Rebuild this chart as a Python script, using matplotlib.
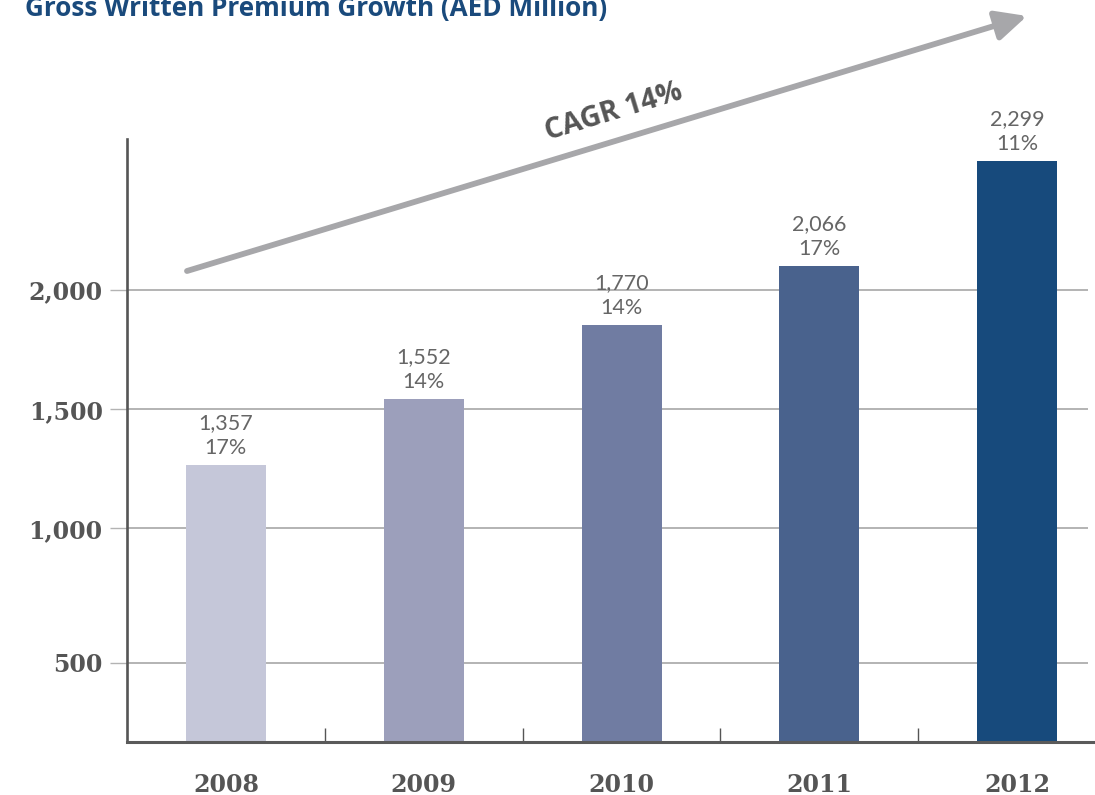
import numpy as np
import matplotlib
matplotlib.use("Agg")
import matplotlib.pyplot as plt

# ---- data ----
years = ["2008", "2009", "2010", "2011", "2012"]
bar_heights = [1266, 1543, 1853, 2102, 2541]          # heights as drawn against the axis
value_labels = ["1,357", "1,552", "1,770", "2,066", "2,299"]
growth_labels = ["17%", "14%", "14%", "17%", "11%"]
bar_colors = ["#c5c7d9", "#9c9fbb", "#707ca2", "#49628d", "#174a7c"]
y_ticks = [500, 1000, 1500, 2000]
y_tick_labels = ["500", "1,000", "1,500", "2,000"]
title = "Gross Written Premium Growth (AED Million)"
cagr_text = "CAGR 14%"

# piecewise axis as drawn (gridline spacing is uneven in the source)
scale_vals = np.array([0, 500, 1000, 1500, 2000, 3000], dtype=float)
scale_pos = np.array([-134.4, 0, 134.4, 253.4, 372.7, 611.3])

def fwd(v):
    return np.interp(v, scale_vals, scale_pos)

def inv(p):
    return np.interp(p, scale_pos, scale_vals)

W, H = 1095, 795
fig = plt.figure(figsize=(W / 100, H / 100), dpi=100)
ax = fig.add_axes([127 / W, 1 - 742 / H, (W - 127) / W, (742 - 139) / H])
ax.set_yscale("function", functions=(fwd, inv))

x = np.arange(len(years))
ax.bar(x, bar_heights, width=80 / 197.8, color=bar_colors, zorder=3)
ax.set_xlim(-0.5, (W - 226) / 197.8)
ax.set_ylim(205, 2633)

# gridlines
grid_right = (1088 - 226) / 197.8
ax.hlines(y_ticks, -0.5, grid_right, colors="#b3b3b3", linewidth=1.4, zorder=1)

# spines
for s in ["top", "right"]:
    ax.spines[s].set_visible(False)
ax.spines["left"].set_color("#555555")
ax.spines["left"].set_linewidth(1.9)
ax.spines["bottom"].set_color("#5a5a5a")
ax.spines["bottom"].set_linewidth(2.2)
ax.spines["left"].set_zorder(4)
ax.spines["bottom"].set_zorder(4)

serif_bold = dict(family="DejaVu Serif", weight="bold", size=17, color="#555555")
ax.set_yticks(y_ticks)
ax.set_yticklabels(y_tick_labels, fontdict=serif_bold)
ax.tick_params(axis="y", length=12.5, width=1.0, color="#b3b3b3", pad=5)
ax.yaxis.set_minor_locator(matplotlib.ticker.NullLocator())

ax.set_xticks(x)
ax.set_xticklabels(years, fontdict=serif_bold)
ax.tick_params(axis="x", which="major", length=0, pad=22)
ax.set_xticks(x[:-1] + 0.5, minor=True)
ax.tick_params(axis="x", which="minor", direction="in", length=10, width=1.0, color="#555555")

# value labels
for xi, h, v, g in zip(x, bar_heights, value_labels, growth_labels):
    ax.annotate(f"{v}\n{g}", xy=(xi, h), xytext=(0, 5), textcoords="offset points",
                ha="center", va="bottom", fontsize=15.5, color="#666666",
                family="Lato", fontweight="normal", linespacing=1.3, zorder=5)

# arrow
fig.add_artist(matplotlib.patches.FancyArrowPatch(
    posA=(187 / W, 1 - 271 / H), posB=(1027 / W, 1 - 16 / H),
    transform=fig.transFigure, arrowstyle="-|>,head_length=1.25,head_width=0.6",
    mutation_scale=15, color="#a7a7aa", linewidth=4.2, shrinkA=0, shrinkB=0))

fig.text(614 / W, 1 - 112 / H, cagr_text, rotation=17, ha="center", va="center",
         fontsize=20.5, fontweight="bold", color="#555555", family="Open Sans")

fig.text(25 / W, 1 - 16 / H, title, ha="left", va="baseline", fontsize=18.8,
         fontweight="bold", color="#1a4a7c", family="Open Sans")

fig.savefig("out.png", dpi=100)
